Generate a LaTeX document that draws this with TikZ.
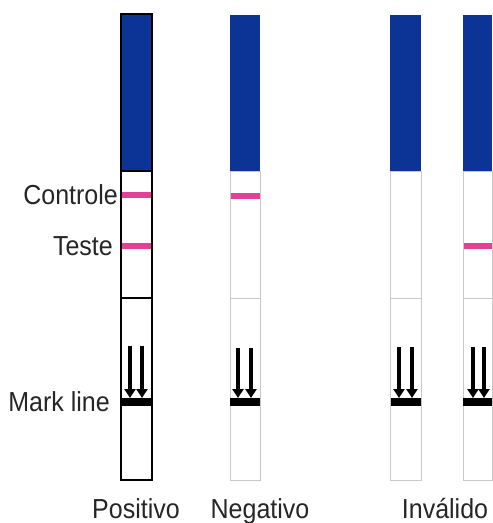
\documentclass[tikz,border=0pt]{standalone}
\usepackage{fontspec}
\setmainfont{Liberation Sans}
\usetikzlibrary{arrows.meta}
\definecolor{stripblue}{RGB}{12,52,150}
\definecolor{linepink}{RGB}{226,66,150}
\definecolor{edgegray}{RGB}{200,200,200}
\newcommand\tallbox[1]{\scalebox{1}[1.1]{#1}}
\begin{document}
\begin{tikzpicture}[x=1pt,y=-1pt,
  lbl/.style={inner sep=0pt,text=black!85,font=\fontsize{25}{28}\selectfont},
  bluecap/.style={fill=stripblue,draw=none},
  pinkline/.style={fill=linepink,draw=none},
  markbar/.style={fill=black,draw=none},
  flow/.style={line width=4pt,-{Triangle[width=11pt,length=9pt]}},
  edgeA/.style={draw=black,line width=1.4pt},
  edgeB/.style={draw=edgegray,line width=1pt}]
\useasboundingbox (0,0) rectangle (493,523);
\fill[white] (0,0) rectangle (493,523);

% strip 1 (Positivo)
\fill[bluecap] (121,14) rectangle (152,171);
\fill[pinkline] (122,192) rectangle (151,198);
\fill[pinkline] (122,243) rectangle (151,249);
\fill[markbar] (121,398) rectangle (152,406);
\draw[edgeA] (121,14) rectangle (152,480);
\draw[edgeA] (121,171) -- (152,171);
\draw[edgeA] (121,298) -- (152,298);
\coordinate (a1s) at (130,346); \coordinate (a1e) at (130,398);
\coordinate (a2s) at (142,346); \coordinate (a2e) at (142,398);
\draw[flow] (a1s) -- (a1e);
\draw[flow] (a2s) -- (a2e);

% strip 2 (Negativo)
\fill[bluecap] (230,15) rectangle (260,171);
\fill[pinkline] (230,193) rectangle (260,199);
\draw[edgeB] (230,171) rectangle (260,480);
\draw[edgeB] (230,298) -- (260,298);
\fill[markbar] (230,398) rectangle (260,406);
\coordinate (b1s) at (238,348); \coordinate (b1e) at (238,398);
\coordinate (b2s) at (251,348); \coordinate (b2e) at (251,398);
\draw[flow] (b1s) -- (b1e);
\draw[flow] (b2s) -- (b2e);

% strip 3 (Invalido)
\fill[bluecap] (390,15) rectangle (421,171);
\draw[edgeB] (390,171) rectangle (421,480);
\draw[edgeB] (390,298) -- (421,298);
\fill[markbar] (391,398) rectangle (421,406);
\coordinate (c1s) at (399,347); \coordinate (c1e) at (399,398);
\coordinate (c2s) at (412,347); \coordinate (c2e) at (412,398);
\draw[flow] (c1s) -- (c1e);
\draw[flow] (c2s) -- (c2e);

% strip 4 (Invalido)
\fill[bluecap] (463,15) rectangle (492,171);
\fill[pinkline] (463,243) rectangle (492,249);
\draw[edgeB] (463,171) rectangle (492,480);
\draw[edgeB] (463,298) -- (492,298);
\fill[markbar] (463,398) rectangle (492,406);
\coordinate (d1s) at (473,347); \coordinate (d1e) at (473,398);
\coordinate (d2s) at (484,347); \coordinate (d2e) at (484,398);
\draw[flow] (d1s) -- (d1e);
\draw[flow] (d2s) -- (d2e);

% labels
\node[lbl,anchor=east] (ctl) at (118,195) {\tallbox{Controle}};
\node[lbl,anchor=east] (tst) at (113,246) {\tallbox{Teste}};
\node[lbl,anchor=east] (mrk) at (110,402) {\tallbox{Mark line}};
\node[lbl,anchor=base] (pos) at (136,518) {\tallbox{Positivo}};
\node[lbl,anchor=base] (neg) at (260,518) {\tallbox{Negativo}};
\node[lbl,anchor=base] (inv) at (445,518) {\tallbox{Inválido}};
\end{tikzpicture}
\end{document}
